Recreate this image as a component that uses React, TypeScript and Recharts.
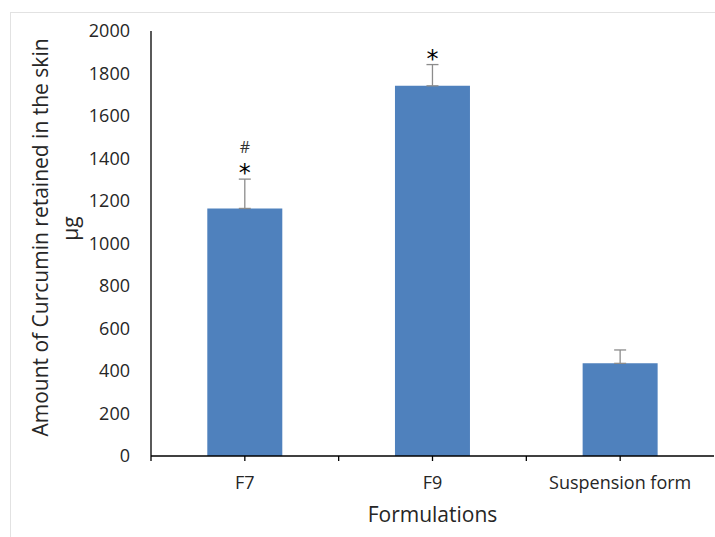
import React from "react";
import { ComposedChart, Bar, Line, XAxis, YAxis, ErrorBar, LabelList } from "recharts";

const categories = ["F7", "F9", "Suspension form"];
const means = [1165, 1742, 436];
const errors = [138, 100, 63];
const starMarks = ["*", "*", ""];
const hashMarks = ["#", "", ""];
const yTicks = [0, 200, 400, 600, 800, 1000, 1200, 1400, 1600, 1800, 2000];

const data = categories.map((name, i) => ({
  name,
  value: means[i],
  err: [0, errors[i]],
  top: means[i] + errors[i],
  star: starMarks[i],
  hash: hashMarks[i],
}));

const FONT = "'Open Sans', sans-serif";
const TEXT = "#262626";

const XTick = (props: any) => {
  const { x, y, payload, width, visibleTicksCount } = props;
  const half = width && visibleTicksCount ? width / visibleTicksCount / 2 : 94;
  return (
    <g>
      <line x1={x} y1={y} x2={x} y2={y + 5} stroke="#000" strokeWidth={1.3} />
      <line x1={x - half} y1={y} x2={x - half} y2={y + 5} stroke="#000" strokeWidth={1.3} />
      <text x={x} y={y + 33} textAnchor="middle" fill={TEXT} fontSize={18} fontFamily={FONT}>
        {payload.value}
      </text>
    </g>
  );
};

const MarkLabel = (props: any) => {
  const { x, y, index } = props;
  const d = data[index];
  return (
    <g>
      {d.star ? (
        <text x={x} y={y + 2} textAnchor="middle" fill="#000" fontSize={24} fontFamily="'DejaVu Sans', sans-serif">
          {d.star}
        </text>
      ) : null}
      {d.hash ? (
        <text x={x} y={y - 26} textAnchor="middle" fill="#333" fontSize={16} fontFamily={FONT}>
          {d.hash}
        </text>
      ) : null}
    </g>
  );
};

const YLabel = (props: any) => {
  const { viewBox } = props;
  const cy = viewBox.y + viewBox.height / 2 - 6;
  return (
    <g fill={TEXT} fontFamily={FONT} fontSize={21}>
      <text x={40} y={cy} textAnchor="middle" dominantBaseline="central" transform={`rotate(-90, 40, ${cy})`}>
        Amount of Curcumin retained in the skin
      </text>
      <text x={70} y={cy - 9} textAnchor="middle" dominantBaseline="central" transform={`rotate(-90, 70, ${cy - 9})`}>
        µg
      </text>
    </g>
  );
};

export default function App() {
  return (
    <div style={{ position: "absolute", left: 0, top: 0, width: 715, height: 537, background: "#fff" }}>
      <div
        style={{
          position: "absolute",
          left: 10,
          top: 12,
          width: 705,
          height: 525,
          borderLeft: "1px solid #e2e2e2",
          borderTop: "1px solid #e2e2e2",
        }}
      />
      <div style={{ position: "absolute", left: 0, top: 0 }}>
        <ComposedChart
          width={715}
          height={537}
          data={data}
          margin={{ top: 31, right: 1, bottom: 13, left: 0 }}
          barCategoryGap="30%"
        >
          <XAxis
            dataKey="name"
            tick={<XTick />}
            tickLine={false}
            tickSize={0}
            tickMargin={0}
            axisLine={{ stroke: "#000", strokeWidth: 1.3 }}
            height={68}
            interval={0}
            label={{ value: "Formulations", position: "insideBottom", offset: 2, fill: TEXT, fontSize: 21, fontFamily: FONT }}
          />
          <YAxis
            domain={[0, 2000]}
            ticks={yTicks}
            width={151}
            tickLine={false}
            tickSize={0}
            tickMargin={21}
            axisLine={{ stroke: "#000", strokeWidth: 1.3 }}
            tick={{ fill: TEXT, fontSize: 18, fontFamily: FONT }}
            interval={0}
            label={<YLabel />}
          />
          <Bar dataKey="value" fill="#4F81BD" isAnimationActive={false}>
            <ErrorBar dataKey="err" direction="y" width={6} stroke="#8c8c8c" strokeWidth={1.3} />
          </Bar>
          <Line dataKey="top" stroke="none" dot={false} activeDot={false} isAnimationActive={false}>
            <LabelList dataKey="top" content={<MarkLabel />} />
          </Line>
        </ComposedChart>
      </div>
    </div>
  );
}
